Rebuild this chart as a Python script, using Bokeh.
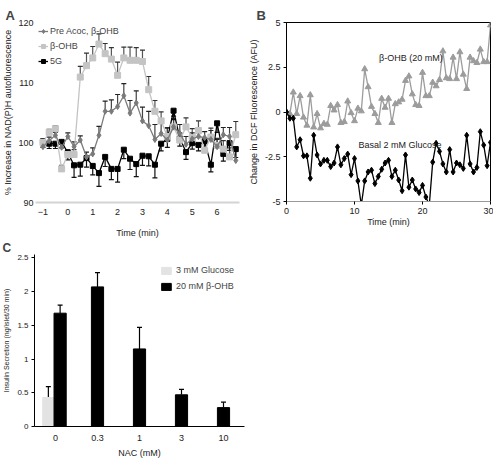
from bokeh.plotting import figure
from bokeh.models import (ColumnDataSource, Whisker, TeeHead, Legend, LegendItem,
                          Label, FixedTicker, Range1d, FactorRange)
from bokeh.transform import dodge
from bokeh.layouts import column, row
from bokeh.embed import file_html
from bokeh.resources import INLINE

FONT = "Liberation Sans"

# ---------------- Panel A data ----------------
time_a = [-1.0, -0.75, -0.5, -0.25, 0.0, 0.25, 0.5, 0.75, 1.0, 1.25, 1.5, 1.75,
          2.0, 2.25, 2.5, 2.75, 3.0, 3.25, 3.5, 3.75, 4.0, 4.25, 4.5, 4.75,
          5.0, 5.25, 5.5, 5.75, 6.0, 6.25, 6.5, 6.75]
pre_acoc = [99.3, 100.3, 101.2, 99.2, 101.0, 99.3, 100.4, 97.6, 98.1, 101.2, 105.2, 105.2,
            106.0, 107.8, 104.9, 106.6, 103.6, 102.8, 100.5, 101.5, 100.4, 102.6, 101.5, 99.7,
            100.6, 101.0, 100.8, 100.5, 99.3, 101.3, 101.0, 97.0]
pre_acoc_err = [0.6, 0.6, 0.5, 0.8, 0.6, 0.8, 0.7, 0.8, 1.0, 1.5, 1.7, 1.9,
                2.0, 2.0, 2.1, 2.0, 2.3, 2.4, 2.5, 2.0, 2.0, 1.8, 1.5, 1.3,
                1.0, 1.2, 1.0, 1.5, 1.2, 1.2, 1.5, 1.5]
bohb = [100.0, 101.7, 102.3, 95.6, 98.0, 98.0, 110.9, 112.8, 114.1, 116.4, 114.8, 113.9,
        111.2, 114.1, 113.7, 113.7, 113.5, 108.8, 105.2, 103.6, 101.0, 102.6, 100.4, 102.6,
        100.8, 102.0, 98.7, 100.9, 99.5, 98.9, 97.6, 101.3]
bohb_err = [0.5, 0.5, 0.5, 0.6, 0.8, 0.8, 1.8, 2.1, 1.9, 1.7, 1.7, 1.9,
            2.2, 1.8, 2.2, 2.1, 1.9, 2.2, 1.8, 1.5, 1.5, 1.4, 1.2, 1.5,
            1.5, 1.6, 1.2, 1.5, 1.2, 1.4, 1.5, 2.2]
g5 = [100.2, 99.8, 99.8, 100.1, 98.3, 96.2, 96.3, 97.4, 96.1, 94.9, 97.6, 95.6,
      95.6, 98.8, 97.3, 96.4, 97.8, 97.7, 96.3, 99.8, 100.6, 105.3, 100.7, 98.4,
      99.9, 99.6, 100.2, 96.3, 103.2, 98.1, 99.9, 98.9]
g5_err = [1.0, 0.8, 0.8, 1.0, 1.2, 2.0, 1.9, 1.5, 1.5, 2.2, 1.6, 1.8,
          2.2, 1.5, 1.8, 2.1, 1.6, 1.6, 2.2, 1.2, 1.4, 1.5, 1.3, 1.2,
          1.0, 1.0, 1.3, 1.2, 1.5, 1.2, 1.2, 1.4]
a_yticks = [90, 100, 110, 120]
a_xticks = [-1, 0, 1, 2, 3, 4, 5, 6]

# ---------------- Panel B data ----------------
time_b = [0.0, 0.5, 1.0, 1.5, 2.0, 2.5, 3.0, 3.5, 4.0, 4.5, 5.0, 5.5, 6.0, 6.5, 7.0, 7.5,
          8.0, 8.5, 9.0, 9.5, 10.0, 10.5, 11.0, 11.5, 12.0, 12.5, 13.0, 13.5, 14.0, 14.5,
          15.0, 15.5, 16.0, 16.5, 17.0, 17.5, 18.0, 18.5, 19.0, 19.5, 20.0, 20.5, 21.0,
          21.5, 22.0, 22.5, 23.0, 23.5, 24.0, 24.5, 25.0, 25.5, 26.0, 26.5, 27.0, 27.5,
          28.0, 28.5, 29.0, 29.5, 30.0]
dcf_bohb = [0.0, -0.1, 1.1, -0.1, 0.9, -0.3, -0.75, 0.95, -0.85, -0.1, -0.9, -0.65, -0.7,
            0.35, 0.1, 0.4, -0.6, -0.55, 0.6, -0.05, -0.5, 0.2, 0.05, 2.4, 1.4, 0.3, -0.1,
            -0.6, 0.75, 0.25, 0.75, -0.6, 0.45, 0.55, 0.7, 1.75, 2.0, 1.0, 0.4, 0.35, 2.2,
            0.9, 0.9, 1.65, 1.45, 1.8, 3.4, 1.9, 1.85, 3.05, 1.85, 3.35, 2.1, 1.3, 3.05,
            2.85, 2.75, 3.5, 2.8, 2.8, 4.85]
dcf_basal = [0.0, -0.35, -0.35, -1.95, -1.55, -2.45, -2.45, -3.7, -1.3, -2.4, -2.9, -2.7,
             -2.7, -3.05, -2.85, -1.95, -2.95, -2.6, -2.35, -3.5, -2.6, -3.85, -5.2, -3.85,
             -3.35, -3.25, -4.0, -3.6, -3.2, -2.85, -2.7, -3.6, -3.25, -3.8, -4.4, -2.4,
             -4.2, -3.8, -4.3, -4.5, -4.1, -4.75, -5.2, -2.8, -1.75, -2.2, -2.9, -3.35,
             -2.1, -3.35, -2.85, -2.95, -3.15, -1.3, -2.9, -3.35, -3.1, -1.1, -1.85, -3.0,
             -1.7]
b_yticks = [-5, -2.5, 0, 2.5, 5]
b_xticks = [0, 10, 20, 30]

# ---------------- Panel C data ----------------
nac = ["0", "0.3", "1", "3", "10"]
bohb_secretion = [1.68, 2.07, 1.15, 0.47, 0.28]
bohb_secretion_err = [0.12, 0.21, 0.32, 0.08, 0.08]
glucose_nac = ["0"]
glucose_secretion = [0.43]
glucose_secretion_err = [0.16]
c_yticks = [0, 0.5, 1, 1.5, 2, 2.5]


def style_common(p):
    p.xgrid.grid_line_color = None
    p.ygrid.grid_line_color = None
    p.background_fill_color = "white"
    p.border_fill_color = "white"
    for ax in p.axis:
        ax.major_label_text_font = FONT
        ax.axis_label_text_font = FONT
        ax.axis_label_text_font_style = "normal"
        ax.minor_tick_line_color = None
        ax.minor_tick_out = 0
        ax.minor_tick_in = 0
        ax.major_label_text_color = "#222222"
        ax.axis_label_text_color = "#222222"


def panel_title(p, txt, off):
    p.title.text = txt
    p.title.text_font = FONT
    p.title.text_font_size = "13px"
    p.title.text_font_style = "bold"
    p.title.align = "left"
    p.title.standoff = 0
    p.title.offset = off


# ================= Panel A =================
pA = figure(frame_width=204, frame_height=180, x_range=Range1d(-1.3, 6.9), y_range=Range1d(90, 120),
            output_backend="svg", toolbar_location=None,
            min_border_left=30, min_border_right=6, min_border_top=20, min_border_bottom=38)
style_common(pA)
panel_title(pA, "A", -30)
pA.outline_line_color = None
pA.xaxis.ticker = FixedTicker(ticks=a_xticks)
pA.yaxis.ticker = FixedTicker(ticks=a_yticks)
pA.xaxis.axis_line_color = "#d4d4d4"
pA.xaxis.axis_line_width = 2
pA.xaxis.major_tick_line_color = None
pA.xaxis.major_tick_out = 0
pA.xaxis.major_tick_in = 0
pA.xaxis.major_label_text_font_size = "9px"
pA.xaxis.major_label_standoff = 6
pA.xaxis.axis_label = "Time (min)"
pA.xaxis.axis_label_text_font_size = "9px"
pA.xaxis.axis_label_standoff = 10
pA.yaxis.axis_line_color = None
pA.yaxis.major_tick_line_color = None
pA.yaxis.major_tick_out = 0
pA.yaxis.major_tick_in = 0
pA.yaxis.major_label_text_font_size = "9px"
pA.yaxis.major_label_standoff = 2
pA.yaxis.axis_label = "% Increase in NAD(P)H autofluorescence"
pA.yaxis.axis_label_text_font_size = "9px"
pA.yaxis.axis_label_standoff = 2

srcA = ColumnDataSource(dict(
    t=time_a,
    pre=pre_acoc, pre_hi=[v + e for v, e in zip(pre_acoc, pre_acoc_err)],
    bo=bohb, bo_hi=[v + e for v, e in zip(bohb, bohb_err)],
    g=g5, g_lo=[v - e for v, e in zip(g5, g5_err)],
))
pA.add_layout(Whisker(source=srcA, base="t", lower="bo", upper="bo_hi",
                      line_color="#555555", line_width=1.2, lower_head=None,
                      upper_head=TeeHead(size=5, line_color="#333333", line_width=1.2)))
pA.add_layout(Whisker(source=srcA, base="t", lower="pre", upper="pre_hi",
                      line_color="#444444", line_width=1.2, lower_head=None,
                      upper_head=TeeHead(size=5, line_color="#222222", line_width=1.2)))
pA.add_layout(Whisker(source=srcA, base="t", lower="g_lo", upper="g",
                      line_color="#111111", line_width=1.2, upper_head=None,
                      lower_head=TeeHead(size=5, line_color="#111111", line_width=1.2)))

l_g = pA.line("t", "g", source=srcA, line_color="black", line_width=1.3)
m_g = pA.scatter("t", "g", source=srcA, marker="square", size=5, color="black")
l_bo = pA.line("t", "bo", source=srcA, line_color="#c4c4c4", line_width=1.3)
m_bo = pA.scatter("t", "bo", source=srcA, marker="square", size=6, color="#c4c4c4")
l_pre = pA.line("t", "pre", source=srcA, line_color="#7a7a7a", line_width=1.3)
m_pre = pA.scatter("t", "pre", source=srcA, marker="diamond", size=6, color="#7a7a7a")

legA = Legend(items=[
    LegendItem(label="Pre Acoc, β-OHB", renderers=[l_pre, m_pre]),
    LegendItem(label="β-OHB", renderers=[l_bo, m_bo]),
    LegendItem(label="5G", renderers=[l_g, m_g]),
], location="top_left")
legA.label_text_font = FONT
legA.label_text_font_size = "9px"
legA.glyph_width = 10
legA.glyph_height = 12
legA.label_height = 12
legA.label_standoff = 2
legA.spacing = 3
legA.padding = 0
legA.margin = 3
legA.border_line_color = None
legA.background_fill_alpha = 0
pA.add_layout(legA)

# ================= Panel B =================
pB = figure(frame_width=204, frame_height=179, x_range=Range1d(0, 30), y_range=Range1d(-5, 5),
            output_backend="svg", toolbar_location=None,
            min_border_left=36, min_border_right=3, min_border_top=22, min_border_bottom=37)
style_common(pB)
panel_title(pB, "B", -30)
pB.outline_line_color = "black"
pB.outline_line_width = 1
pB.xaxis.ticker = FixedTicker(ticks=b_xticks)
pB.yaxis.ticker = FixedTicker(ticks=b_yticks)
pB.yaxis.major_label_overrides = {-5: "-5", -2.5: "-2.5", 0: "0", 2.5: "2.5", 5: "5"}
for ax in pB.axis:
    ax.axis_line_color = "black"
    ax.major_tick_line_color = "black"
    ax.major_tick_out = 3
    ax.major_tick_in = 0
    ax.major_label_text_font_size = "9px"
    ax.major_label_standoff = 3
pB.xaxis.axis_line_color = "#9a9a9a"
pB.xaxis.axis_label = "Time (min)"
pB.xaxis.axis_label_text_font_size = "9px"
pB.xaxis.axis_label_standoff = 0
pB.yaxis.axis_label = "Change in DCF Fluorescence (AFU)"
pB.yaxis.axis_label_text_font_size = "9px"
pB.yaxis.axis_label_standoff = 3

srcB = ColumnDataSource(dict(t=time_b, bo=dcf_bohb, ba=dcf_basal))
pB.line("t", "bo", source=srcB, line_color="#9c9c9c", line_width=1.3)
pB.scatter("t", "bo", source=srcB, marker="triangle", size=6, color="#9c9c9c")
pB.line("t", "ba", source=srcB, line_color="black", line_width=1.3)
pB.scatter("t", "ba", source=srcB, marker="diamond", size=6, color="black")
pB.add_layout(Label(x=13.6, y=3.0, text="β-OHB (20 mM)", text_font=FONT,
                    text_font_size="9px", text_color="#222222", text_baseline="middle"))
pB.add_layout(Label(x=10.6, y=-1.85, text="Basal 2 mM Glucose", text_font=FONT,
                    text_font_size="9px", text_color="#222222", text_baseline="middle"))

# ================= Panel C =================
pC = figure(frame_width=210, frame_height=172, x_range=FactorRange(*nac), y_range=Range1d(0, 2.55),
            output_backend="svg", toolbar_location=None,
            min_border_left=32, min_border_right=8, min_border_top=11, min_border_bottom=34)
style_common(pC)
panel_title(pC, "C", -32)
pC.title.text_font_size = "12px"
pC.outline_line_color = None
pC.yaxis.ticker = FixedTicker(ticks=c_yticks)
pC.yaxis.major_label_overrides = {0: "0", 0.5: "0.5", 1: "1", 1.5: "1.5", 2: "2", 2.5: "2.5"}
for ax in pC.axis:
    ax.axis_line_color = "black"
    ax.major_tick_line_color = "black"
    ax.major_tick_out = 3
    ax.major_tick_in = 0
    ax.major_label_text_font_size = "8px"
    ax.major_label_standoff = 3
pC.xaxis.major_tick_line_color = None
pC.xaxis.major_tick_out = 0
pC.xaxis.major_label_text_font_size = "9px"
pC.xaxis.major_label_standoff = 8
pC.xaxis.axis_label = "NAC (mM)"
pC.xaxis.axis_label_text_font_size = "9px"
pC.xaxis.axis_label_standoff = 4
pC.yaxis.axis_label = "Insulin Secretion (ng/islet/30 min)"
pC.yaxis.axis_label_text_font_size = "7px"
pC.yaxis.axis_label_standoff = 4

srcC0 = ColumnDataSource(dict(x=nac[:1], y=bohb_secretion[:1],
                              hi=[v + e for v, e in zip(bohb_secretion[:1], bohb_secretion_err[:1])]))
srcC1 = ColumnDataSource(dict(x=nac[1:], y=bohb_secretion[1:],
                              hi=[v + e for v, e in zip(bohb_secretion[1:], bohb_secretion_err[1:])]))
srcG = ColumnDataSource(dict(x=glucose_nac, y=glucose_secretion,
                             hi=[v + e for v, e in zip(glucose_secretion, glucose_secretion_err)]))

for src, off in ((srcG, -0.17), (srcC0, 0.11), (srcC1, 0.0)):
    pC.add_layout(Whisker(source=src, base=dodge("x", off, range=pC.x_range), lower="y", upper="hi",
                          line_color="black", line_width=1.2, lower_head=None,
                          upper_head=TeeHead(size=5, line_color="black", line_width=1.2)))
rg = pC.vbar(x=dodge("x", -0.17, range=pC.x_range), top="y", width=0.27, source=srcG,
             fill_color="#e3e3e3", line_color="#e3e3e3")
rb = pC.vbar(x=dodge("x", 0.11, range=pC.x_range), top="y", width=0.29, source=srcC0,
             fill_color="black", line_color="black")
pC.vbar(x=dodge("x", 0.0, range=pC.x_range), top="y", width=0.29, source=srcC1,
        fill_color="black", line_color="black")

legC = Legend(items=[LegendItem(label="3 mM Glucose", renderers=[rg]),
                     LegendItem(label="20 mM β-OHB", renderers=[rb])],
              location="top_right")
legC.label_text_font = FONT
legC.label_text_font_size = "9px"
legC.glyph_width = 12
legC.glyph_height = 9
legC.label_height = 12
legC.label_standoff = 4
legC.spacing = 4
legC.padding = 0
legC.margin = 10
legC.border_line_color = None
legC.background_fill_alpha = 0
pC.add_layout(legC)

layout = column(row(pA, pB), pC)
open("out.html", "w").write(file_html(layout, INLINE))
